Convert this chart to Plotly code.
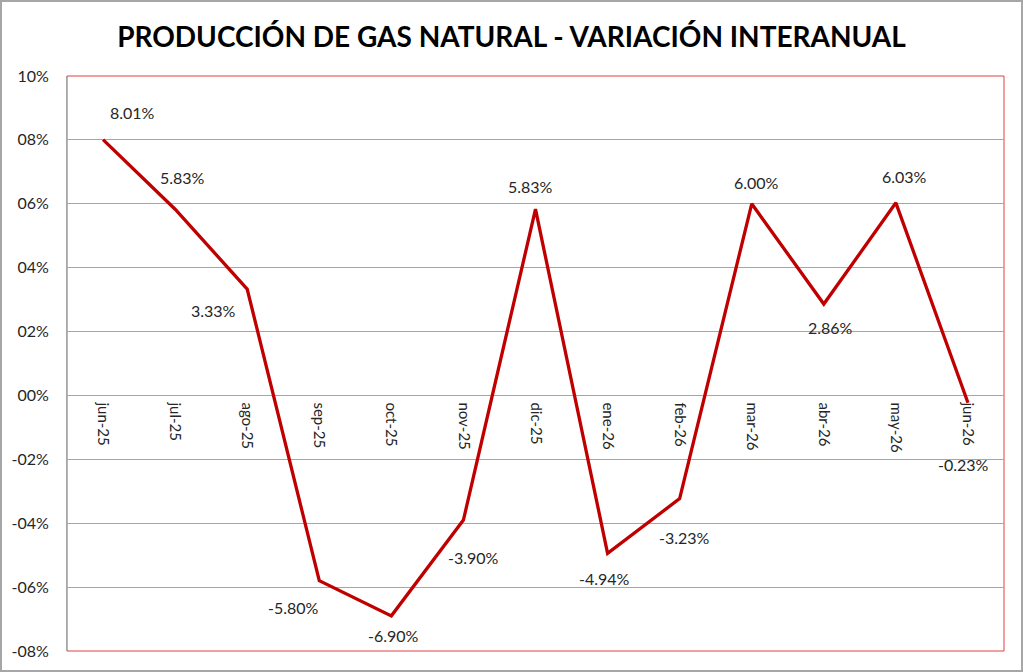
import plotly.graph_objects as go

WIDTH = 1023
HEIGHT = 672

meses = ['jun-25', 'jul-25', 'ago-25', 'sep-25', 'oct-25', 'nov-25', 'dic-25',
         'ene-26', 'feb-26', 'mar-26', 'abr-26', 'may-26', 'jun-26']
variacion = [8.01, 5.83, 3.33, -5.80, -6.90, -3.90, 5.83,
             -4.94, -3.23, 6.00, 2.86, 6.03, -0.23]
y_ticks = [10, 8, 6, 4, 2, 0, -2, -4, -6, -8]
y_tick_text = ['10%', '08%', '06%', '04%', '02%', '00%', '-02%', '-04%', '-06%', '-08%']

# label offsets in px (label centre relative to the point), as placed in the original
label_dx = [29, 7, -34, -26, 2, 10, -5, -3, 5, 5, 7, 9, -4]
label_dy = [-27, -32, 21, 27, 20, 37, -23, 25, 39, -21, 23, -26, 62]

FONT = 'Lato, Open Sans, sans-serif'
Y_MIN, Y_MAX = -8, 10

fig = go.Figure()
fig.add_trace(go.Scatter(x=meses, y=variacion, mode='lines',
                         line=dict(color='#c00000', width=3.3),
                         hoverinfo='x+y', showlegend=False))

for m, v, dx, dy in zip(meses, variacion, label_dx, label_dy):
    fig.add_annotation(x=m, y=v, text=f'{v:.2f}%', showarrow=False,
                       xshift=dx, yshift=-dy,
                       font=dict(family=FONT, size=16, color='#262626'))

# plot area border (red) and outer chart border (grey)
fig.add_shape(type='rect', xref='paper', yref='paper', x0=0, y0=0, x1=1, y1=1,
              line=dict(color='#e04040', width=1), layer='below')
pw, ph = 937, 575
fig.add_shape(type='rect', xref='paper', yref='paper',
              x0=-66 / pw, x1=1 + 18 / pw, y0=-20 / ph, y1=1 + 75 / ph,
              line=dict(color='#a6a6a6', width=2))

fig.update_layout(
    width=WIDTH, height=HEIGHT,
    margin=dict(l=67, r=19, t=76, b=21),
    paper_bgcolor='white', plot_bgcolor='white',
    title=dict(text='<b>PRODUCCIÓN DE GAS NATURAL - VARIACIÓN INTERANUAL</b>',
               x=0.5, xanchor='center', y=1 - 37 / HEIGHT, yanchor='middle',
               font=dict(family=FONT, size=28, color='black')),
    font=dict(family=FONT, color='#262626'),
)
fig.update_xaxes(type='category', range=[-0.5, len(meses) - 0.5],
                 anchor='free', position=(0 - Y_MIN) / (Y_MAX - Y_MIN),
                 tickangle=90, ticks='', showgrid=False, showline=False,
                 zeroline=False, ticklabelstandoff=6,
                 tickfont=dict(family=FONT, size=15))
fig.update_yaxes(range=[Y_MIN, Y_MAX], tickvals=y_ticks, ticktext=y_tick_text,
                 showgrid=True, gridcolor='#a6a6a6', gridwidth=1,
                 zeroline=False, showline=True, linecolor='#a6a6a6', linewidth=1,
                 ticks='', ticklabelstandoff=14,
                 tickfont=dict(family=FONT, size=16))

# the page body has a default 8px margin; remove it so the figure sits at 0,0
fig.write_html('out.html', config={'displayModeBar': False},
               post_script="document.body.style.margin='0';")
